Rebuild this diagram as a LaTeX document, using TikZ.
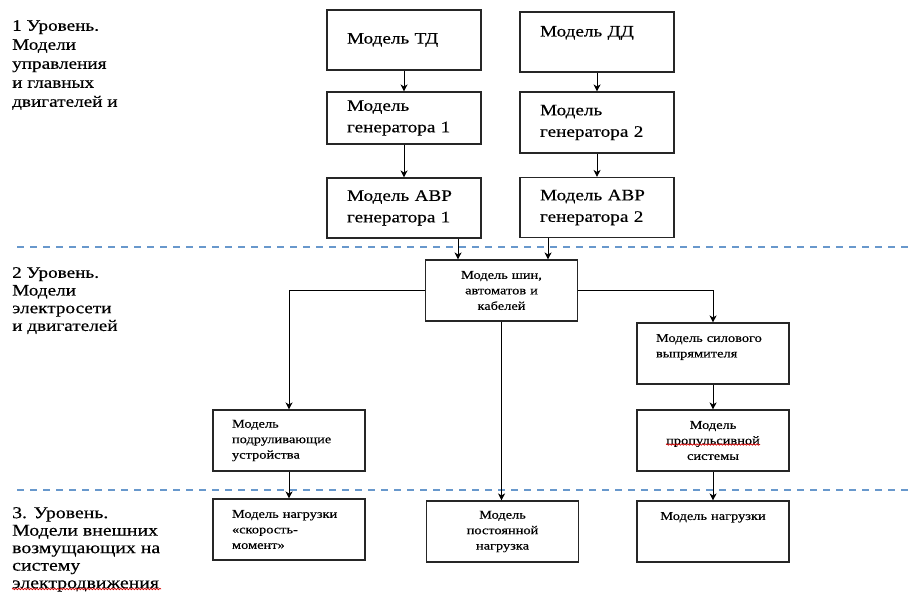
\documentclass[tikz,border=0pt]{standalone}
\usepackage{fontspec}
\setmainfont{Liberation Serif}[FakeStretch=1.2, FakeBold=0.4]
\usetikzlibrary{arrows.meta,decorations.pathmorphing}

\definecolor{levelblue}{RGB}{104,152,204}

\tikzset{
  box/.style={draw=black!85, line width=1.1pt, rectangle, inner ysep=0pt},
  topbox/.style={box, minimum width=154pt, minimum height=60pt, inner xsep=20pt,
    text width=114pt, align=left, font=\fontsize{16}{21.5}\selectfont},
  lowbox/.style={box, minimum width=152pt, minimum height=61pt, inner xsep=19pt,
    text width=114pt, align=left, font=\fontsize{12}{15.5}\selectfont},
  midbox/.style={lowbox, inner xsep=4pt, text width=144pt, align=center},
  level/.style={anchor=north west, inner sep=0pt, align=left},
  arr/.style={-{Stealth[length=7pt,width=7pt,inset=2pt]}, line width=0.9pt},
  divider/.style={levelblue, line width=2pt, dash pattern=on 7pt off 6pt},
  squiggle/.style={red!85!black, line width=0.7pt, decorate,
    decoration={snake, segment length=3pt, amplitude=0.7pt}}
}

\begin{document}
\begin{tikzpicture}[x=1pt,y=-1pt]
\useasboundingbox (0,0) rectangle (910,597);

% level borders
\draw[divider] (17,247) -- (910,247);
\draw[divider] (17,490) -- (910,490);

% level captions
\node[level, font=\fontsize{16}{19}\selectfont] (lvl1) at (12,20)
  {1 Уровень.\\Модели\\управления\\и главных\\двигателей и};
\node[level, font=\fontsize{16}{17.7}\selectfont] (lvl2) at (12,267)
  {2 Уровень.\\Модели\\электросети\\и двигателей};
\node[level, font=\fontsize{16.5}{17.5}\selectfont] (lvl3) at (12,507)
  {3. Уровень.\\Модели внешних\\возмущающих на\\систему\\электродвижения};

% level 1
\node[topbox] (td) at (404,40) {Модель~ТД};
\node[topbox] (dd) at (597,42) {Модель~ДД\\\mbox{}};
\node[topbox, minimum height=52pt] (gen1) at (404,118) {Модель\\генератора~1};
\node[topbox, minimum height=61pt] (gen2) at (597,122.5) {Модель\\генератора~2};
\node[topbox] (avr1) at (404,208) {Модель~АВР\\генератора~1};
\node[topbox] (avr2) at (597,207.5) {Модель~АВР\\генератора~2};

% level 2
\node[midbox] (bus) at (501.5,290.5) {Модель шин,\\автоматов и\\кабелей};
\node[lowbox] (rect) at (713,353.5) {Модель~силового\\выпрямителя\\\mbox{}};
\node[midbox] (prop) at (713,440.5) {Модель\\пропульсивной\\системы};
\node[lowbox] (thr) at (289,440.5) {Модель\\подруливающие\\устройства};

% level 3
\node[lowbox] (ldsm) at (289,529.5) {Модель~нагрузки\\«скорость-\\момент»};
\node[midbox] (ldconst) at (502.5,531.5) {Модель\\постоянной\\нагрузка};
\node[midbox] (ld) at (713,531.5) {Модель нагрузки\\\mbox{}\\\mbox{}};

% connectors
\draw[arr] (td) -- (gen1);
\draw[arr] (dd) -- (gen2);
\draw[arr] (gen1) -- (avr1);
\draw[arr] (gen2) -- (avr2);
\draw[arr] ([xshift=54pt]avr1.south) -- ([xshift=54pt]avr1.south |- bus.north);
\draw[arr] ([xshift=-49pt]avr2.south) -- ([xshift=-49pt]avr2.south |- bus.north);
\draw[arr] (bus.west) -| (thr.north);
\draw[arr] (bus.east) -| (rect.north);
\draw[arr] (bus.south) -- (bus.south |- ldconst.north);
\draw[arr] (thr) -- (ldsm);
\draw[arr] (rect) -- (prop);
\draw[arr] (prop) -- (ld);

% spelling marks
\draw[squiggle] ([shift={(-47,4)}]prop.center) -- ([shift={(47,4)}]prop.center);
\draw[squiggle] (12,589) -- (161,589);
\end{tikzpicture}
\end{document}
